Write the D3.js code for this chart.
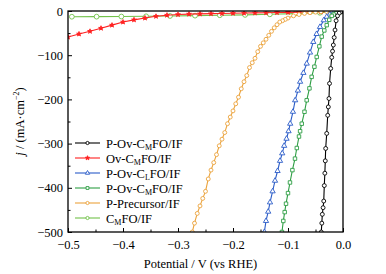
<!DOCTYPE html>
<html>
<head>
<meta charset="utf-8">
<script src="https://cdn.jsdelivr.net/npm/d3@7"></script>
<style>
  body { margin: 0; background: #fff; }
</style>
</head>
<body>
<script>
// series: potential (V vs RHE) and current density (mA cm-2)
var names = [
    ["P-Ov-C", "M", "FO/IF"],
    ["Ov-C", "M", "FO/IF"],
    ["P-Ov-C", "L", "FO/IF"],
    ["P-Ov-C", "M", "FO/IF"],
    ["P-Precursor/IF", "", ""],
    ["C", "M", "FO/IF"]
];
var colors = ["#000000", "#ff2020", "#2b5cc8", "#2e9e44", "#eba33c", "#72c24a"];
var symbols = ["circle", "star", "triangle", "square", "circle", "circle"];

var blackV = [-0.001, -0.002, -0.004, -0.007, -0.010, -0.0125, -0.0145, -0.016, -0.0176, -0.019, -0.0205, -0.0224, -0.0245, -0.0255, -0.0267, -0.0278, -0.0296, -0.0315, -0.0322, -0.033, -0.034, -0.035, -0.0362, -0.0376, -0.0385, -0.0395];
var blackJ = [0, -1, -2, -5, -11, -22, -43, -60, -77, -91, -105, -130, -164, -198, -217, -236, -277, -311, -339, -367, -395, -430, -445, -460, -480, -500];

var redV = [-0.50, -0.48, -0.46, -0.44, -0.42, -0.40, -0.38, -0.36, -0.34, -0.32, -0.30, -0.28, -0.26, -0.24, -0.22, -0.20, -0.18, -0.16, -0.14, -0.12, -0.10, -0.08, -0.06, -0.04, -0.02, 0];
var redJ = [-59, -52, -46, -39, -32, -25, -20, -16, -12, -9.5, -8, -7, -6.5, -6, -5.5, -5, -4.6, -4.2, -3.8, -3.4, -3, -2.6, -2.2, -1.8, -1.3, -0.8];

var blueV = [-0.001, -0.006, -0.012, -0.018, -0.024, -0.0296, -0.035, -0.0418, -0.048, -0.054, -0.060, -0.066, -0.072, -0.078, -0.082, -0.087, -0.091, -0.096, -0.099, -0.1027, -0.107, -0.1105, -0.1145, -0.119, -0.1236, -0.128, -0.1327, -0.136, -0.140, -0.143];
var blueJ = [-0.5, -1, -2.5, -5, -8, -13, -21, -36, -52, -70, -94, -119, -140, -160, -180, -202, -228, -255, -272, -289, -305, -322, -339, -362, -384, -408, -433, -454, -475, -500];

var greenV = [-0.001, -0.004, -0.008, -0.0127, -0.017, -0.0205, -0.025, -0.0296, -0.034, -0.0387, -0.043, -0.0478, -0.052, -0.057, -0.061, -0.066, -0.070, -0.075, -0.078, -0.080, -0.084, -0.0873, -0.092, -0.0964, -0.100, -0.1036, -0.106, -0.1085, -0.111];
var greenJ = [-0.5, -1, -2.5, -5, -8, -11, -20, -32, -44, -58, -80, -104, -126, -149, -175, -202, -228, -255, -272, -284, -310, -334, -360, -388, -412, -436, -455, -475, -500];

var orangeV = [0, -0.01, -0.02, -0.03, -0.04, -0.05, -0.06, -0.07, -0.08, -0.09, -0.10, -0.105, -0.11, -0.115, -0.12, -0.125, -0.13, -0.135, -0.14, -0.145, -0.15, -0.155, -0.16, -0.165, -0.17, -0.175, -0.18, -0.185, -0.19, -0.195, -0.20, -0.205, -0.21, -0.215, -0.22, -0.225, -0.23, -0.235, -0.24, -0.245, -0.25, -0.255, -0.26, -0.265, -0.27, -0.274];
var orangeJ = [-0.3, -0.5, -0.8, -1.2, -1.8, -2.6, -3.8, -5.5, -8, -11, -16, -19, -22, -25, -31, -38, -46, -55, -64, -72, -80, -92, -107, -117, -128, -146, -160, -176, -195, -210, -226, -240, -255, -275, -290, -305, -325, -343, -360, -380, -408, -424, -441, -458, -480, -500];

var lgreenV = [-0.493, -0.448, -0.403, -0.358, -0.3145, -0.269, -0.224, -0.178, -0.133, -0.087, -0.042, -0.002];
var lgreenJ = [-13, -12.8, -12.5, -12, -11.3, -10.5, -9.6, -8.8, -7.5, -6, -4, -1];

var seriesV = [blackV, redV, blueV, greenV, orangeV, lgreenV];
var seriesJ = [blackJ, redJ, blueJ, greenJ, orangeJ, lgreenJ];

var xTicks = [-0.5, -0.4, -0.3, -0.2, -0.1, 0.0];
var yTicks = [0, -100, -200, -300, -400, -500];

var w = 386,
    h = 274;

var margin = { top: 11, right: 43, bottom: 42, left: 68 },
    width = w - margin.left - margin.right,
    height = h - margin.top - margin.bottom;

var font = "Liberation Serif";

var svg = d3.select("body")
    .append("svg")
    .attr("width", w)
    .attr("height", h)
    .attr("font-family", font)
    .append("g")
    .attr("transform", "translate(" + margin.left + "," + margin.top + ")");

var x = d3.scaleLinear().domain([-0.5, 0]).range([0, width]);
var y = d3.scaleLinear().domain([-500, 0]).range([height, 0]);

var fmtMinus = function (s) { return s.replace("-", "\u2212"); };

// axes, ticks inward
svg.append("g")
    .attr("transform", "translate(0," + height + ")")
    .call(d3.axisBottom(x).tickValues(xTicks).tickSize(-4).tickPadding(8)
        .tickFormat(function (d) { return fmtMinus(d3.format(".1f")(d)); }));
svg.append("g")
    .attr("transform", "translate(0," + height + ")")
    .call(d3.axisBottom(x).tickValues(d3.range(-0.45, 0, 0.1)).tickSize(-2.5).tickFormat(""));

svg.append("g")
    .call(d3.axisLeft(y).tickValues(yTicks).tickSize(-4).tickPadding(5)
        .tickFormat(function (d) { return fmtMinus(String(d)); }));
svg.append("g")
    .call(d3.axisLeft(y).tickValues([-50, -150, -250, -350, -450]).tickSize(-2.5).tickFormat(""));

svg.selectAll(".domain").remove();
svg.selectAll(".tick line").attr("stroke", "#000").attr("stroke-width", 1);
svg.selectAll(".tick text")
    .attr("font-family", font)
    .attr("font-size", 12.5)
    .attr("fill", "#000");

// curves
svg.append("clipPath").attr("id", "clip")
    .append("rect").attr("width", width).attr("height", height);

var line = d3.line()
    .x(function (d) { return x(d[0]); })
    .y(function (d) { return y(d[1]); });

var symbolType = {
    circle: d3.symbolCircle,
    star: d3.symbolStar,
    triangle: d3.symbolTriangle,
    square: d3.symbolSquare
};

var plot = svg.append("g").attr("clip-path", "url(#clip)");

// draw the flat ones first so the steep ones sit on top
var order = [5, 1, 4, 2, 3, 0];
order.forEach(function (i) {
    var pts = seriesV[i].map(function (v, k) { return [v, seriesJ[i][k]]; });
    var g = plot.append("g");
    g.append("path")
        .datum(pts)
        .attr("d", line)
        .attr("fill", "none")
        .attr("stroke", colors[i])
        .attr("stroke-width", 1.1);
    g.selectAll("path.mk")
        .data(pts)
        .enter()
        .append("path")
        .attr("class", "mk")
        .attr("transform", function (d) { return "translate(" + x(d[0]) + "," + y(d[1]) + ")"; })
        .attr("d", d3.symbol().type(symbolType[symbols[i]]).size(symbols[i] == "star" ? 7 : (i == 5 ? 18 : 12)))
        .attr("fill", symbols[i] == "star" ? colors[i] : "#fff")
        .attr("stroke", colors[i])
        .attr("stroke-width", 0.9);
});

// frame
svg.append("rect")
    .attr("width", width)
    .attr("height", height)
    .attr("fill", "none")
    .attr("stroke", "#000")
    .attr("stroke-width", 1.3);

// legend
var legend = svg.append("g").attr("transform", "translate(7,132)");
names.forEach(function (n, i) {
    var row = legend.append("g").attr("transform", "translate(0," + (i * 15) + ")");
    row.append("line")
        .attr("x1", 0).attr("x2", 25)
        .attr("stroke", colors[i]).attr("stroke-width", 1.1);
    row.append("path")
        .attr("transform", "translate(12.5,0)")
        .attr("d", d3.symbol().type(symbolType[symbols[i]]).size(symbols[i] == "star" ? 6 : 8))
        .attr("fill", symbols[i] == "star" ? colors[i] : "#fff")
        .attr("stroke", colors[i]).attr("stroke-width", 0.9);
    var t = row.append("text")
        .attr("x", 31).attr("y", 4.5)
        .attr("font-size", 12.5)
        .attr("fill", "#000");
    t.append("tspan").text(n[0]);
    if (n[1]) {
        t.append("tspan").attr("font-size", 8).attr("dy", 2.5).text(n[1]);
        t.append("tspan").attr("dy", -2.5).text(n[2]);
    }
});

// axis titles
svg.append("text")
    .attr("x", width / 2 - 5)
    .attr("y", height + 36)
    .attr("text-anchor", "middle")
    .attr("font-size", 12.5)
    .attr("fill", "#000")
    .text("Potential / V (vs RHE)");

var yl = svg.append("text")
    .attr("transform", "translate(-44," + (height / 2) + ") rotate(-90)")
    .attr("text-anchor", "middle")
    .attr("font-size", 12.5)
    .attr("fill", "#000");
yl.append("tspan").attr("font-style", "italic").text("j");
yl.append("tspan").text(" / (mA\u00b7cm");
yl.append("tspan").attr("font-size", 8).attr("dy", -5).text("\u22122");
yl.append("tspan").attr("dy", 5).text(")");
</script>
</body>
</html>
